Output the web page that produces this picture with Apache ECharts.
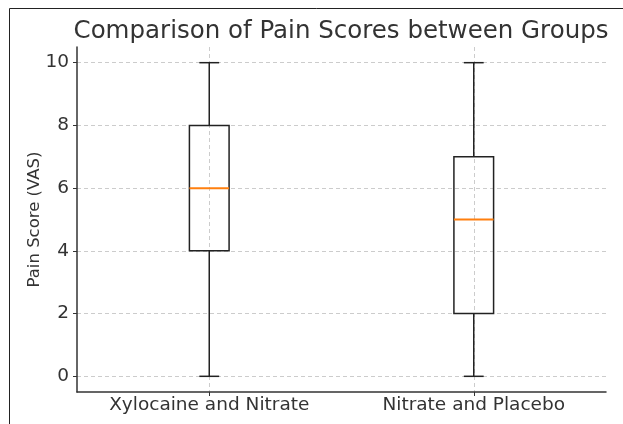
<!DOCTYPE html>
<html><head><meta charset="utf-8">
<script src="https://cdn.jsdelivr.net/npm/echarts@6/dist/echarts.min.js"></script>
<style>html,body{margin:0;padding:0;background:#fff}#c{width:623px;height:424px}</style>
</head><body><div id="c"></div>
<script>
const categories = ['Xylocaine and Nitrate', 'Nitrate and Placebo'];
const mins = [0, 0];
const q1s = [4, 2];
const medians = [6, 5];
const q3s = [8, 7];
const maxs = [10, 10];
const yTicks = [0, 2, 4, 6, 8, 10];
const xPositions = [1, 2];

const FONT = 'DejaVu Sans';
const chart = echarts.init(document.getElementById('c'), null, {renderer: 'canvas'});
const data = categories.map((c, i) => [xPositions[i], mins[i], q1s[i], medians[i], q3s[i], maxs[i]]);

function renderBox(params, api) {
  const x = api.value(0);
  const lo = api.coord([x, api.value(1)]);
  const b1 = api.coord([x, api.value(2)]);
  const md = api.coord([x, api.value(3)]);
  const b3 = api.coord([x, api.value(4)]);
  const hi = api.coord([x, api.value(5)]);
  const bw = api.size([0.15, 0])[0];
  const cw = bw / 2;
  const cx = lo[0];
  const st = {stroke: '#222', lineWidth: 1.5, fill: null};
  return {
    type: 'group',
    children: [
      {type: 'line', shape: {x1: cx, y1: lo[1], x2: cx, y2: b1[1]}, style: st},
      {type: 'line', shape: {x1: cx, y1: b3[1], x2: cx, y2: hi[1]}, style: st},
      {type: 'line', shape: {x1: cx - cw / 2, y1: lo[1], x2: cx + cw / 2, y2: lo[1]}, style: st},
      {type: 'line', shape: {x1: cx - cw / 2, y1: hi[1], x2: cx + cw / 2, y2: hi[1]}, style: st},
      {type: 'rect', shape: {x: cx - bw / 2, y: b3[1], width: bw, height: b1[1] - b3[1]}, style: st},
      {type: 'line', shape: {x1: cx - bw / 2, y1: md[1], x2: cx + bw / 2, y2: md[1]}, style: {stroke: '#ff7f0e', lineWidth: 2}}
    ]
  };
}

chart.setOption({
  animation: false,
  backgroundColor: '#fff',
  title: {
    text: 'Comparison of Pain Scores between Groups',
    left: 336, top: 14, textAlign: 'center',
    textStyle: {fontFamily: FONT, fontSize: 24.5, fontWeight: 'normal', color: '#333'}
  },
  grid: {left: 77, right: 17, top: 47, bottom: 32},
  xAxis: {
    type: 'value', min: 0.5, max: 2.5,
    axisLine: {show: true, onZero: false, lineStyle: {color: '#333', width: 1.5}},
    axisTick: {show: true, customValues: xPositions, length: 4, lineStyle: {color: '#333'}},
    axisLabel: {customValues: xPositions, formatter: v => categories[xPositions.indexOf(v)] || '',
      fontFamily: FONT, fontSize: 18.5, color: '#333', margin: 4},
    splitLine: {show: true, lineStyle: {color: '#ccc', type: [4, 3], width: 1}}
  },
  yAxis: {
    type: 'value', min: -0.5, max: 10.5,
    name: 'Pain Score (VAS)', nameLocation: 'middle', nameGap: 34, nameMoveOverlap: false,
    nameTextStyle: {fontFamily: FONT, fontSize: 16.5, color: '#333'},
    axisLine: {show: true, lineStyle: {color: '#333', width: 1.5}},
    axisTick: {show: true, customValues: yTicks, length: 4, lineStyle: {color: '#333'}},
    axisLabel: {customValues: yTicks, fontFamily: FONT, fontSize: 18.5, color: '#333', margin: 8},
    splitLine: {show: true, lineStyle: {color: '#ccc', type: [4, 3], width: 1}}
  },
  graphic: [
    {type: 'polyline', shape: {points: [[9.5, 424], [9.5, 8.5], [623, 8.5]]}, style: {stroke: '#222', lineWidth: 1, fill: null}}
  ],
  series: [{
    type: 'custom',
    renderItem: renderBox,
    encode: {x: 0, y: [1, 2, 3, 4, 5]},
    data: data,
    clip: false
  }]
});
</script></body></html>
